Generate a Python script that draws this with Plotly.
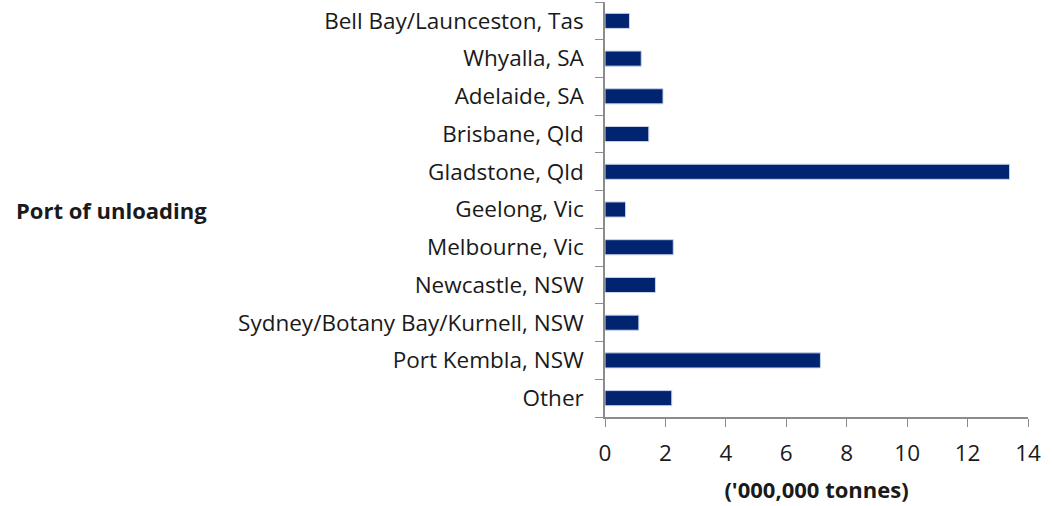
import plotly.graph_objects as go

ports = [
    "Bell Bay/Launceston, Tas",
    "Whyalla, SA",
    "Adelaide, SA",
    "Brisbane, Qld",
    "Gladstone, Qld",
    "Geelong, Vic",
    "Melbourne, Vic",
    "Newcastle, NSW",
    "Sydney/Botany Bay/Kurnell, NSW",
    "Port Kembla, NSW",
    "Other",
]
tonnes_mt = [0.81, 1.20, 1.92, 1.45, 13.39, 0.68, 2.26, 1.67, 1.12, 7.13, 2.21]
x_ticks = [0, 2, 4, 6, 8, 10, 12, 14]

FONT = "Open Sans"
FS = 22.5

W, H = 1052, 506
ML, MR, MT, MB = 605, 24, 2, 89

fig = go.Figure(
    go.Bar(
        x=tonnes_mt,
        y=ports,
        orientation="h",
        marker=dict(color="#002470", line=dict(color="#c9d3ea", width=1)),
    )
)

fig.update_layout(
    width=W,
    height=H,
    margin=dict(l=ML, r=MR, t=MT, b=MB),
    plot_bgcolor="white",
    paper_bgcolor="white",
    bargap=0.6,
    showlegend=False,
    font=dict(family=FONT, size=FS, color="#1a1a1a"),
)

fig.update_xaxes(
    automargin=False,
    range=[0, 14],
    tickvals=x_ticks,
    showgrid=False,
    zeroline=False,
    showline=True,
    linecolor="#8c8c8c",
    linewidth=1.5,
    ticks="outside",
    ticklen=8,
    tickcolor="#8c8c8c",
    ticklabelstandoff=7,
    tickfont=dict(size=FS, family=FONT),
    title=dict(text="<b>('000,000 tonnes)</b>", font=dict(size=22, family=FONT), standoff=16),
)

fig.update_yaxes(
    automargin=False,
    categoryorder="array",
    categoryarray=ports[::-1],
    showgrid=False,
    zeroline=False,
    showline=True,
    linecolor="#8c8c8c",
    linewidth=1.5,
    ticks="outside",
    tickson="boundaries",
    ticklen=8,
    tickcolor="#8c8c8c",
    ticklabelstandoff=15,
    tickfont=dict(size=FS, family=FONT),
)

plot_w = W - ML - MR
fig.add_annotation(
    text="<b>Port of unloading</b>",
    xref="paper", yref="paper",
    x=(14 - ML) / plot_w, y=0.5,
    xanchor="left", yanchor="middle",
    showarrow=False,
    font=dict(size=22, family=FONT, color="#1a1a1a"),
)

fig.write_html(
    "out.html",
    config={"displayModeBar": False},
    post_script="document.body.style.margin='0';document.body.style.padding='0';",
)
